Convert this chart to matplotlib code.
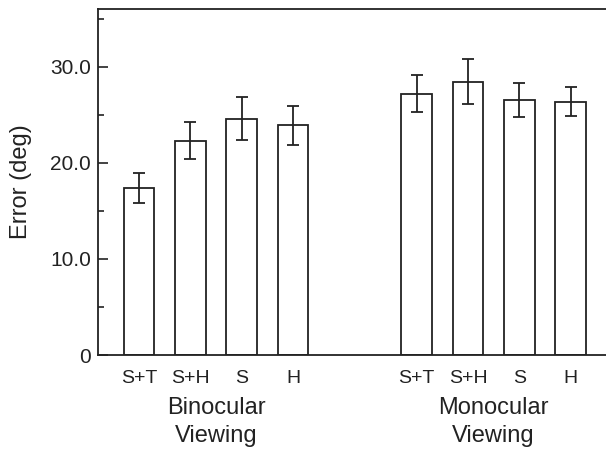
import matplotlib
matplotlib.use('Agg')
import matplotlib.pyplot as plt
from matplotlib.ticker import FixedLocator, FuncFormatter
import numpy as np

plt.rcParams['font.family'] = ['Liberation Sans', 'DejaVu Sans']

# data
conditions = ['S+T', 'S+H', 'S', 'H']
groups = ['Binocular\nViewing', 'Monocular\nViewing']
binocular_mean = [17.4, 22.3, 24.6, 23.9]
binocular_err = [1.55, 1.95, 2.25, 2.0]
monocular_mean = [27.2, 28.45, 26.55, 26.35]
monocular_err = [1.95, 2.3, 1.8, 1.5]

ink = '#222222'
fig = plt.figure(figsize=(6.06, 4.5), dpi=100)
ax = fig.add_axes([0.1617, 0.2111, 0.8383, 0.7689])

x_bin = np.arange(4)
x_mon = np.arange(4) + 5.41
means = binocular_mean + monocular_mean
errs = binocular_err + monocular_err
xs = np.concatenate([x_bin, x_mon])

ax.bar(xs, means, width=0.6, color='white', edgecolor=ink, linewidth=1.3, zorder=2)
ax.errorbar(xs, means, yerr=errs, fmt='none', ecolor=ink, elinewidth=1.3,
            capsize=4, capthick=1.3, zorder=3)

ax.set_xlim(-0.8, 9.1)
ax.set_ylim(0, 36)

ax.set_xticks(xs)
ax.set_xticklabels(conditions * 2, fontsize=14, color=ink)
ax.tick_params(axis='x', length=0, pad=11)

ax.yaxis.set_major_locator(FixedLocator([0, 10, 20, 30]))
ax.yaxis.set_minor_locator(FixedLocator([5, 15, 25, 35]))
ax.yaxis.set_major_formatter(FuncFormatter(lambda v, p: '0' if v == 0 else f'{v:.1f}'))
ax.tick_params(axis='y', which='major', direction='in', length=7, width=1.2,
               labelsize=15, pad=5, colors=ink)
ax.tick_params(axis='y', which='minor', direction='in', length=4.5, width=1.2, colors=ink)

ax.set_ylabel('Error (deg)', fontsize=17, color=ink)
ax.yaxis.set_label_coords(-0.13, 0.5)

for side in ['left', 'bottom', 'top']:
    ax.spines[side].set_linewidth(1.3)
    ax.spines[side].set_color(ink)
ax.spines['right'].set_visible(False)

trans = ax.get_xaxis_transform()
ax.text(x_bin.mean(), -0.12, groups[0], transform=trans, ha='center', va='top',
        fontsize=17, color=ink, linespacing=1.4)
ax.text(x_mon.mean(), -0.12, groups[1], transform=trans, ha='center', va='top',
        fontsize=17, color=ink, linespacing=1.4)

fig.savefig('out.png', dpi=100)
